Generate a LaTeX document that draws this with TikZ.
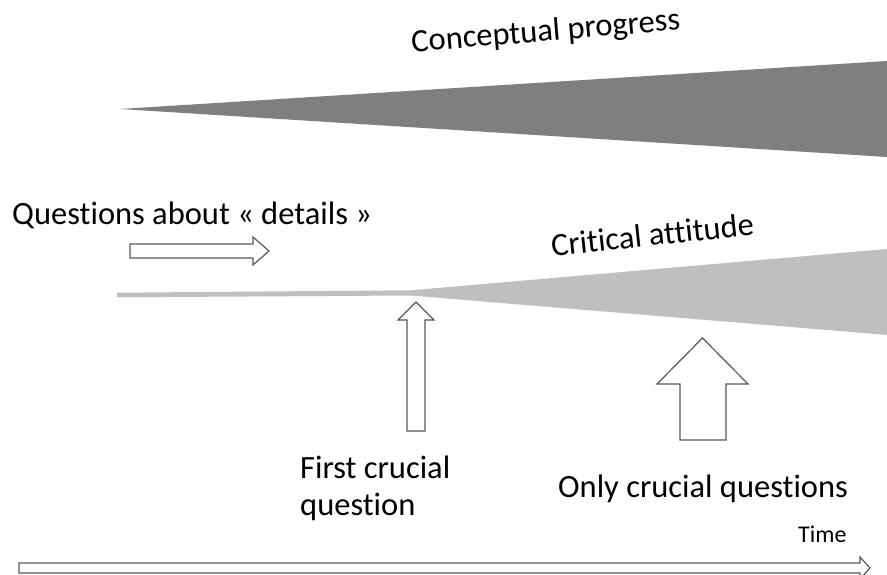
\documentclass[tikz,border=0pt]{standalone}
\usepackage{fontspec}
\setmainfont{Carlito}[Ligatures={NoCommon,NoRare,NoContextual},RawFeature={-liga;-clig;-dlig}]
\definecolor{darkwedge}{HTML}{7F7F7F}
\definecolor{lightwedge}{HTML}{BFBFBF}
\definecolor{arrowline}{HTML}{595959}
\begin{document}
\begin{tikzpicture}[x=1pt,y=-1pt,
  lbl/.style={inner sep=0pt,font=\fontsize{32.5}{38}\selectfont,text=black},
  hollow/.style={draw=arrowline,line width=1.2pt,fill=white,line join=miter}]
\clip (0,0) rectangle (887,575);
\fill[white] (0,0) rectangle (887,575);
% dark wedge
\fill[darkwedge] (120,109) -- (887,61) -- (887,157) -- cycle;
% light line + wedge
\fill[lightwedge] (117,292.7) -- (411,290.3) -- (887,249) -- (887,335) -- (411,295.5) -- (117,297.3) -- cycle;
% texts
\node[lbl,anchor=base,rotate=4.8] (cp) at (546.5,41) {Conceptual progress};
\node[lbl,anchor=base,rotate=6.1] (ca) at (653.5,245.5) {Critical attitude};
\node[lbl,anchor=base west] (qd) at (12,225) {Questions about « details »};
\node[lbl,anchor=base west] (fq) at (300,478) {First crucial};
\node[lbl,anchor=base west] (fq2) at (300,515) {question};
\node[lbl,anchor=base west] (oq) at (558,497) {Only crucial questions};
\node[inner sep=0pt,font=\fontsize{24}{28}\selectfont,anchor=base west] (tm) at (798,542) {Time};
% small right arrow
\draw[hollow] (130,244) -- (253,244) -- (253,237) -- (269,251) -- (253,265) -- (253,258) -- (130,258) -- cycle;
% first crucial question arrow
\draw[hollow] (407,431) -- (407,320) -- (398,320) -- (416,302) -- (434,320) -- (425,320) -- (425,431) -- cycle;
% big arrow
\draw[hollow] (680,440) -- (680,384) -- (657,384) -- (702.5,338) -- (748,384) -- (726,384) -- (726,440) -- cycle;
% time arrow
\draw[hollow] (19,563) -- (860,563) -- (860,557) -- (870,568) -- (860,579) -- (860,573) -- (19,573) -- cycle;
\end{tikzpicture}
\end{document}
